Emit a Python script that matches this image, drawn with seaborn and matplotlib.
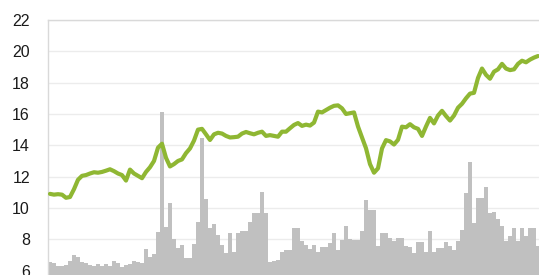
import matplotlib

matplotlib.use("Agg")

import matplotlib.pyplot as plt
import numpy as np
import pandas as pd
import seaborn as sns

# gray bars (one per period)
bar_values = [
    6.58, 6.5, 6.3, 6.3, 6.37, 6.6, 7.0, 6.9, 6.55, 6.5,
    6.35, 6.3, 6.42, 6.3, 6.45, 6.3, 6.6, 6.5, 6.2, 6.35,
    6.42, 6.6, 6.55, 6.5, 7.39, 6.86, 7.07, 8.49, 16.1, 8.8,
    10.3, 8.0, 7.45, 7.64, 6.8, 6.8, 7.7, 9.09, 14.45, 10.6,
    8.7, 8.96, 8.28, 7.64, 7.11, 8.39, 7.2, 8.39, 8.5, 8.5,
    9.09, 9.66, 9.66, 11.05, 9.66, 6.58, 6.6, 6.66, 7.2, 7.32,
    7.32, 8.7, 8.7, 7.86, 7.64, 7.4, 7.62, 7.2, 7.5, 7.5,
    7.79, 8.43, 7.3, 7.96, 8.85, 8.0, 7.96, 7.96, 8.5, 10.51,
    9.87, 9.87, 7.6, 8.4, 8.4, 8.1, 7.9, 8.11, 8.11, 7.6,
    7.5, 7.11, 7.85, 7.85, 7.2, 8.56, 7.2, 7.45, 7.45, 7.85,
    7.6, 7.3, 7.9, 8.6, 10.94, 12.96, 9.03, 10.62, 10.62, 11.36,
    9.7, 9.77, 9.3, 8.85, 7.9, 8.2, 8.7, 7.9, 8.7, 8.2,
    8.7, 8.7, 7.6,
]

# green line
line_values = [
    10.9, 10.85, 10.88, 10.85, 10.65, 10.7, 11.2, 11.8, 12.05, 12.1,
    12.2, 12.28, 12.25, 12.3, 12.38, 12.47, 12.35, 12.2, 12.1, 11.75,
    12.45, 12.2, 12.05, 11.9, 12.3, 12.6, 13.0, 13.85, 14.1, 13.2,
    12.65, 12.8, 13.0, 13.1, 13.5, 13.8, 14.3, 15.0, 15.05, 14.7,
    14.34, 14.7, 14.8, 14.75, 14.6, 14.5, 14.52, 14.55, 14.75, 14.85,
    14.77, 14.7, 14.8, 14.87, 14.6, 14.65, 14.6, 14.55, 14.87, 14.87,
    15.09, 15.3, 15.42, 15.24, 15.32, 15.26, 15.45, 16.15, 16.1, 16.25,
    16.4, 16.52, 16.55, 16.36, 16.0, 16.05, 16.1, 15.2, 14.5, 13.81,
    12.8, 12.25, 12.53, 13.8, 14.33, 14.25, 14.05, 14.35, 15.19, 15.15,
    15.35, 15.15, 15.05, 14.6, 15.2, 15.75, 15.4, 15.9, 16.2, 15.87,
    15.58, 15.9, 16.4, 16.65, 17.0, 17.3, 17.35, 18.3, 18.9, 18.5,
    18.25, 18.7, 18.85, 19.2, 18.9, 18.8, 18.85, 19.2, 19.4, 19.3,
    19.47, 19.6, 19.7,
]

y_ticks = [6, 8, 10, 12, 14, 16, 18, 20, 22]

df = pd.DataFrame({
    "period": np.arange(len(bar_values)),
    "bars": bar_values,
    "line": line_values,
})

sns.set_theme(style="white")
plt.rcParams["font.family"] = ["Liberation Sans", "DejaVu Sans"]

fig = plt.figure(figsize=(5.39, 2.75), dpi=100)
ax = fig.add_axes([48 / 539, 0.0, 492 / 539, 255 / 275])

sns.barplot(data=df, x="period", y="bars", color="#c0c0c0", width=0.95,
            linewidth=0, saturation=1, ax=ax, zorder=2)
sns.lineplot(data=df, x="period", y="line", color="#8fb733", linewidth=3.0,
             ax=ax, zorder=3, solid_capstyle="round", solid_joinstyle="round")

ax.set_xlim(-0.5, len(bar_values) - 0.5)
ax.set_ylim(5.72, 22)
ax.set_yticks(y_ticks)
ax.set_yticklabels([str(t) for t in y_ticks], fontsize=11.5, color="#1a1a1a")
ax.tick_params(axis="y", length=0, pad=13)
ax.set_xticks([])
ax.set_xlabel("")
ax.set_ylabel("")
ax.grid(axis="y", color="#ececec", linewidth=1.0, zorder=0)
ax.set_axisbelow(True)

for side in ["right", "bottom"]:
    ax.spines[side].set_visible(False)
ax.spines["left"].set_color("#d9d9d9")
ax.spines["top"].set_color("#d9d9d9")
ax.spines["left"].set_linewidth(1.0)
ax.spines["top"].set_linewidth(1.0)

fig.savefig("out.png", dpi=100)
plt.close(fig)
